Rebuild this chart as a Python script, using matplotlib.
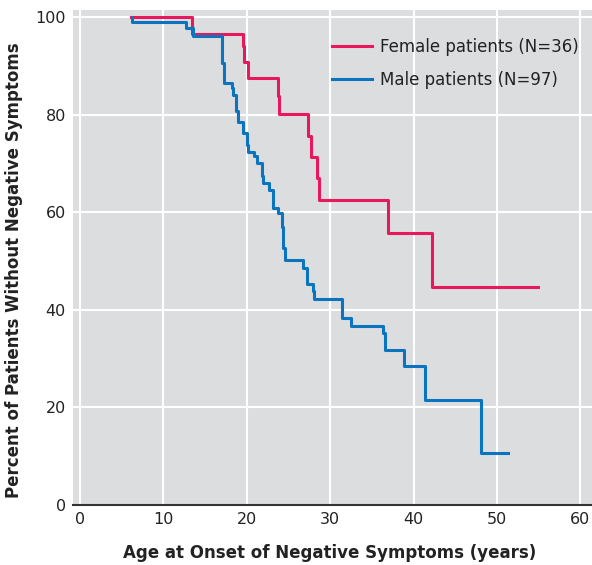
import matplotlib
matplotlib.use("Agg")
import matplotlib.pyplot as plt

# Kaplan-Meier style step data (age in years, percent)
female_age = [6.1, 13.4, 19.5, 19.7, 20.1, 23.7, 23.9, 27.4, 27.7, 28.4, 28.7,
              36.9, 42.2, 54.9]
female_pct = [100, 96.5, 94.1, 90.8, 87.6, 83.8, 80.1, 75.6, 71.4, 67.0, 62.6,
              55.8, 44.6, 44.6]

male_age = [6.3, 6.3, 12.7, 13.6, 17.0, 17.3, 18.2, 18.4, 18.7, 19.0, 19.6,
            20.0, 20.2, 20.9, 21.2, 21.8, 22.0, 22.7, 23.1, 23.7, 24.2, 24.4,
            24.6, 26.8, 27.2, 27.9, 28.1, 31.4, 32.5, 36.3, 36.6, 38.8, 41.4,
            48.1, 51.3]
male_pct = [100, 98.9, 97.7, 96.2, 90.5, 86.4, 85.5, 84.0, 80.7, 78.5, 76.3,
            73.8, 72.4, 71.5, 70.1, 67.4, 65.9, 64.5, 60.9, 59.8, 57.0, 52.6,
            50.3, 48.5, 45.4, 43.9, 42.3, 38.3, 36.7, 35.3, 31.8, 28.5, 21.5,
            10.7, 10.7]

x_ticks = [0, 10, 20, 30, 40, 50, 60]
y_ticks = [0, 20, 40, 60, 80, 100]

pink = "#E8185C"
blue = "#0A74BE"

fig = plt.figure(figsize=(5.92, 5.65), dpi=100)
ax = fig.add_axes([0.123, 0.106, 0.877, 0.876])
ax.set_facecolor("#DCDDDF")

ax.step(female_age, female_pct, where="post", color=pink, lw=2.2,
        label="Female patients (N=36)")
ax.step(male_age, male_pct, where="post", color=blue, lw=2.2,
        label="Male patients (N=97)")

ax.set_xlim(-0.85, 61.4)
ax.set_ylim(0, 101.4)
ax.set_xticks(x_ticks)
ax.set_yticks(y_ticks)
ax.grid(True, color="white", lw=1.5)
ax.set_axisbelow(True)
ax.tick_params(length=0, labelsize=11.5, colors="#222222", pad=5)

for s in ["top", "right", "left"]:
    ax.spines[s].set_visible(False)
ax.spines["bottom"].set_color("#333333")
ax.spines["bottom"].set_linewidth(1.5)

ax.set_xlabel("Age at Onset of Negative Symptoms (years)", fontsize=12,
              fontweight="bold", color="#222222")
ax.set_ylabel("Percent of Patients Without Negative Symptoms", fontsize=12,
              fontweight="bold", color="#222222")
ax.xaxis.set_label_coords(0.495, -0.078)
ax.yaxis.set_label_coords(-0.096, 0.475)

leg = ax.legend(loc="upper left", bbox_to_anchor=(0.47, 0.975), frameon=False,
                fontsize=12, handlelength=2.4, handletextpad=0.5,
                labelspacing=0.9)
for t in leg.get_texts():
    t.set_color("#222222")

fig.savefig("out.png", dpi=100)
